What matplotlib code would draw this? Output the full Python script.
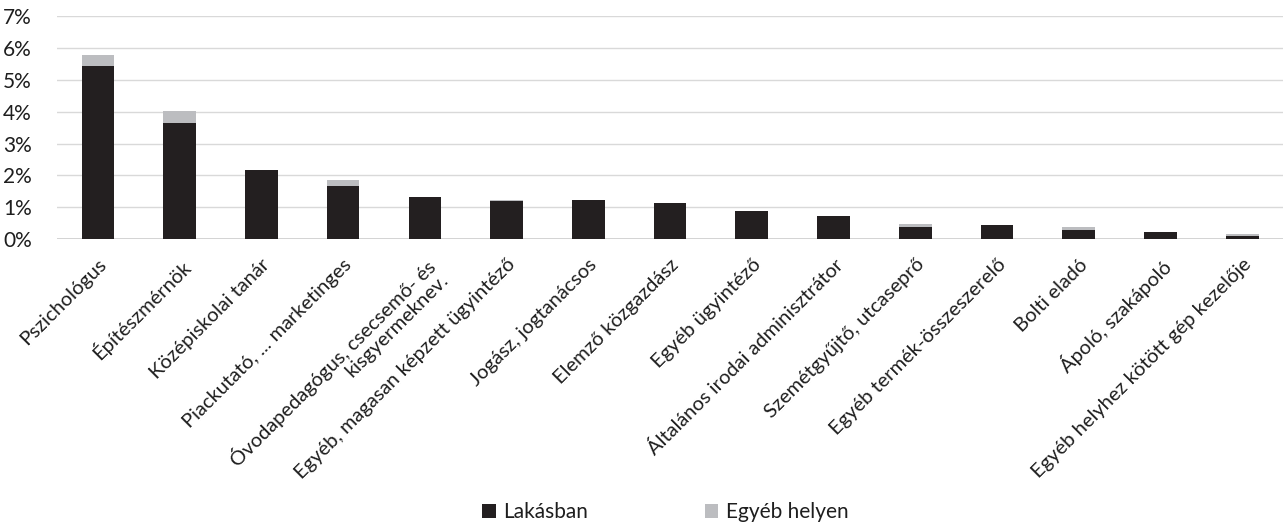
import matplotlib.pyplot as plt
from matplotlib.ticker import PercentFormatter
import numpy as np

plt.rcParams['font.family'] = ['Lato', 'DejaVu Sans']

categories = [
    "Pszichológus",
    "Építészmérnök",
    "Középiskolai tanár",
    "Piackutató, ... marketinges",
    "Óvodapedagógus, csecsemő- és\nkisgyermeknev.",
    "Egyéb, magasan képzett ügyintéző",
    "Jogász, jogtanácsos",
    "Elemző közgazdász",
    "Egyéb ügyintéző",
    "Általános irodai adminisztrátor",
    "Szemétgyűjtő, utcaseprő",
    "Egyéb termék-összeszerelő",
    "Bolti eladó",
    "Ápoló, szakápoló",
    "Egyéb helyhez kötött gép kezelője",
]
lakasban = [5.44, 3.66, 2.17, 1.68, 1.34, 1.19, 1.24, 1.13, 0.88, 0.72, 0.37, 0.46, 0.29, 0.23, 0.10]
egyeb_helyen = [0.34, 0.36, 0.0, 0.17, 0.0, 0.05, 0.0, 0.0, 0.0, 0.0, 0.11, 0.0, 0.08, 0.0, 0.07]

dark = '#231f20'
light = '#bcbdc0'
text_col = '#1e1e1e'

fig = plt.figure(figsize=(12.87, 5.27), dpi=100)
ax = fig.add_axes([0.0443, 0.546, 0.9527, 0.4236])

x = np.arange(len(categories))
ax.bar(x, lakasban, width=0.4, color=dark, label='Lakásban', zorder=3)
ax.bar(x, egyeb_helyen, width=0.4, bottom=lakasban, color=light,
       label='Egyéb helyen', zorder=3)

ax.set_xlim(-0.5, len(categories) - 0.5)
ax.set_ylim(0, 7)
ax.set_yticks(range(8))
ax.yaxis.set_major_formatter(PercentFormatter(decimals=0))
ax.grid(axis='y', color='#d9d9d9', linewidth=1.0, zorder=0)
ax.axhline(0, color='#d0d0d0', linewidth=2.0, zorder=2)
for side in ax.spines.values():
    side.set_visible(False)

ax.tick_params(axis='y', length=0, pad=18, labelsize=15, labelcolor=text_col)
ax.tick_params(axis='x', length=0, pad=12)
ax.set_xticks(x)
ax.set_xticklabels(categories, rotation=45, ha='right', va='top',
                   rotation_mode='anchor', multialignment='right',
                   fontsize=14.5, color=text_col, linespacing=1.0)

fig.legend(loc='center', bbox_to_anchor=(0.517, 0.028), ncol=2, frameon=False,
           fontsize=15, handlelength=0.65, handleheight=0.65, handletextpad=0.35,
           columnspacing=5.6, labelcolor=text_col)

fig.savefig('out.png', dpi=100)
